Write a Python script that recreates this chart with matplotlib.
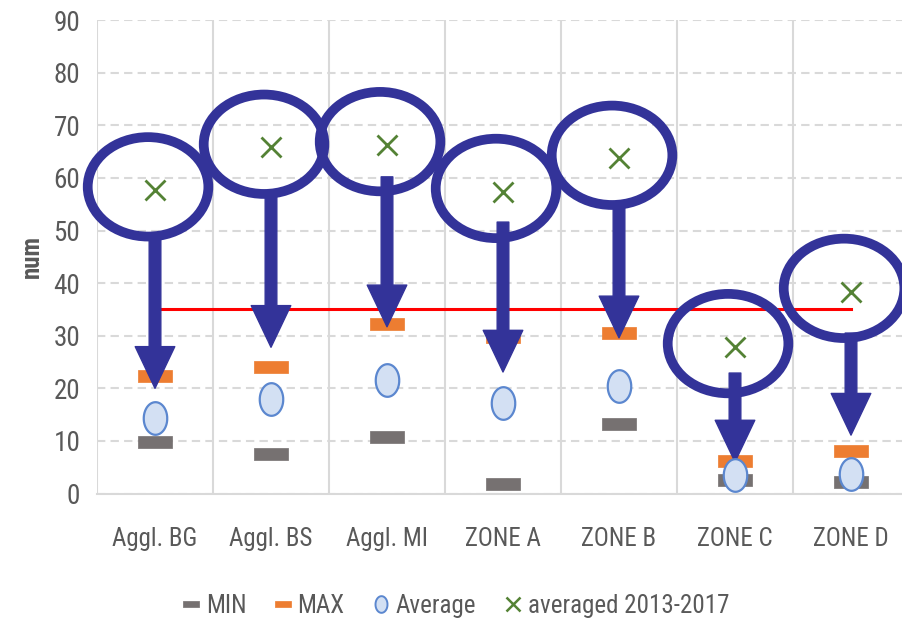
import numpy as np
import matplotlib
matplotlib.use("Agg")
import matplotlib.pyplot as plt
from matplotlib.patches import Ellipse
from matplotlib.lines import Line2D

plt.rcParams['font.family'] = ['Roboto Condensed', 'DejaVu Sans']

categories = ["Aggl. BG", "Aggl. BS", "Aggl. MI", "ZONE A", "ZONE B", "ZONE C", "ZONE D"]
val_min = [9.7, 7.6, 10.7, 1.9, 13.2, 2.6, 2.2]
val_max = [22.4, 24.1, 32.3, 29.8, 30.6, 6.2, 8.1]
val_avg = [14.3, 18.0, 21.6, 17.3, 20.4, 3.5, 3.8]
val_hist = [57.7, 65.8, 66.3, 57.4, 63.7, 27.9, 38.4]
threshold = 35

# hand-drawn call-outs: arrow start / tip values
arrow_from = [48.8, 56.4, 60.2, 51.6, 55.2, 22.9, 30.5]
arrow_to = [20.0, 27.8, 31.7, 23.1, 29.6, 6.0, 11.1]

navy = '#333399'
txt = '#595959'
grid = '#D9D9D9'
c_min, c_max, c_x = '#767171', '#ED7D31', '#548235'
c_avg_face, c_avg_edge = '#D3E0F3', '#5B87CF'

x = np.arange(len(categories))

fig = plt.figure(figsize=(9.02, 6.23), dpi=100)
ax = fig.add_axes([97 / 902, 129.5 / 623, 812 / 902, 473.4 / 623])

dash = [(-1, -0.36), (1, -0.36), (1, 0.36), (-1, 0.36), (-1, -0.36)]
t = np.linspace(0, 2 * np.pi, 60)
oval = list(zip(0.72 * np.cos(t), np.sin(t)))

ax.plot(x, val_min, ls='none', marker=dash, ms=24.5, mfc=c_min, mec=c_min, mew=0.5, zorder=3)
ax.plot(x, val_max, ls='none', marker=dash, ms=24.5, mfc=c_max, mec=c_max, mew=0.5, zorder=3)
ax.plot(x, val_avg, ls='none', marker=oval, ms=23.5, mfc=c_avg_face, mec=c_avg_edge,
        mew=1.6, zorder=6)
ax.plot(x, val_hist, ls='none', marker='x', ms=14, mec=c_x, mew=2, zorder=3)

ax.plot([x[0], x[-1]], [threshold, threshold], color='red', lw=2.2, zorder=2)

for i in range(len(categories)):
    ax.add_patch(Ellipse((x[i] - 0.06, val_hist[i] + 0.6), width=1.04, height=18.9,
                         fill=False, ec=navy, lw=7, zorder=5, clip_on=False))
    ax.annotate('', xy=(x[i], arrow_to[i]), xytext=(x[i], arrow_from[i]),
                arrowprops=dict(arrowstyle='simple,head_length=1.0,head_width=0.95,tail_width=0.28',
                                mutation_scale=30, color=navy, shrinkA=0, shrinkB=0),
                zorder=5)

ax.set_xlim(-0.5, len(categories) - 0.5)
ax.set_ylim(0, 90)
ax.set_yticks(range(0, 91, 10))
ax.set_xticks(x)
ax.set_xticklabels(categories)

ax.set_xticks(np.arange(-0.5, len(categories), 1), minor=True)
ax.grid(axis='y', which='major', ls=(0, (4, 2.5)), color=grid, lw=1.5, zorder=0)
ax.grid(axis='x', which='minor', ls='-', color=grid, lw=1.5, zorder=0)
ax.grid(axis='x', which='major', visible=False)
ax.tick_params(which='both', length=0)
ax.tick_params(axis='x', labelsize=18, colors=txt, pad=24)
ax.tick_params(axis='y', labelsize=19.5, colors=txt, pad=12)
for s in ['top', 'right', 'left']:
    ax.spines[s].set_visible(False)
ax.spines['bottom'].set_color(grid)
ax.spines['bottom'].set_linewidth(1.5)
ax.set_axisbelow(True)

ax.set_ylabel('num', fontsize=18, fontweight='bold', color=txt, labelpad=7)

handles = [
    Line2D([], [], ls='none', marker=dash, ms=11.5, mfc=c_min, mec=c_min, mew=0.5),
    Line2D([], [], ls='none', marker=dash, ms=11.5, mfc=c_max, mec=c_max, mew=0.5),
    Line2D([], [], ls='none', marker=oval, ms=12, mfc=c_avg_face, mec=c_avg_edge, mew=1.4),
    Line2D([], [], ls='none', marker='x', ms=10, mec=c_x, mew=1.8),
]
labels = ['MIN', 'MAX', 'Average', 'averaged 2013-2017']
fig.legend(handles, labels, loc='center', bbox_to_anchor=(0.505, 0.027), ncol=4,
           frameon=False, fontsize=18, labelcolor=txt, handlelength=0.7,
           handletextpad=0.25, columnspacing=1.1)

fig.savefig('out.png', dpi=100)
